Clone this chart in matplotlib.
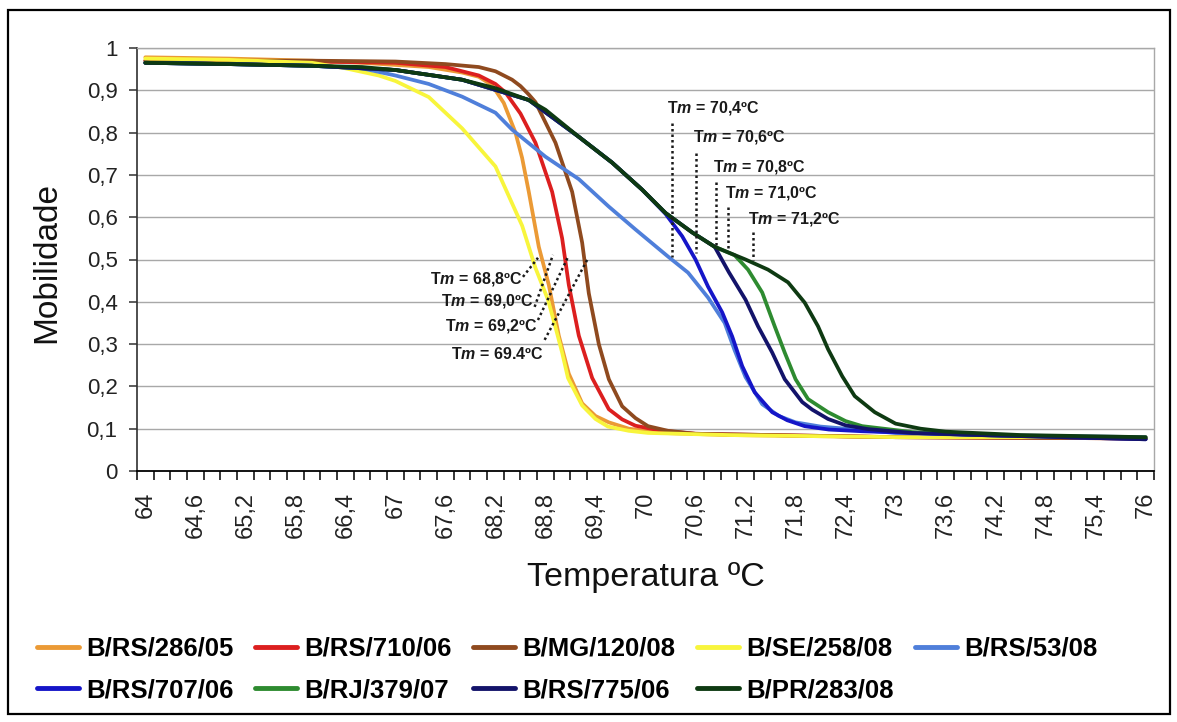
import matplotlib
matplotlib.use('Agg')
import matplotlib.pyplot as plt
import numpy as np
from matplotlib.patches import Rectangle

plt.rcParams['font.family'] = ['Liberation Sans', 'DejaVu Sans']
plt.rcParams['mathtext.fontset'] = 'custom'
plt.rcParams['mathtext.it'] = 'Liberation Sans:italic:bold'
plt.rcParams['mathtext.rm'] = 'Liberation Sans:bold'
plt.rcParams['mathtext.bf'] = 'Liberation Sans:bold'

# ---------------- data ----------------
names = ['B/RS/286/05', 'B/RS/710/06', 'B/MG/120/08', 'B/SE/258/08', 'B/RS/53/08',
         'B/RS/707/06', 'B/RJ/379/07', 'B/RS/775/06', 'B/PR/283/08']
colors = ['#EB9A35', '#DC1F1F', '#8F4A1F', '#F8F53C', '#4F7FDA',
          '#1515C8', '#2E8B30', '#13136A', '#0E3A12']

t_286_05 = [64, 65, 66, 66.6, 67, 67.4, 67.8, 68.0, 68.16, 68.3, 68.44, 68.52, 68.6, 68.72,
            68.84, 68.96, 69.08, 69.24, 69.4, 69.56, 69.8, 70.2, 71, 73, 76]
v_286_05 = [0.978, 0.975, 0.97, 0.965, 0.96, 0.955, 0.942, 0.932, 0.912, 0.87, 0.80, 0.74, 0.66,
            0.53, 0.44, 0.32, 0.23, 0.16, 0.13, 0.115, 0.10, 0.09, 0.085, 0.08, 0.077]

t_710_06 = [64, 65, 66, 67, 67.6, 68.0, 68.2, 68.32, 68.5, 68.68, 68.88, 69.0, 69.08, 69.2,
            69.36, 69.56, 69.72, 69.88, 70.2, 70.6, 71.5, 73, 76]
v_710_06 = [0.97, 0.97, 0.968, 0.965, 0.955, 0.935, 0.915, 0.895, 0.845, 0.776, 0.66, 0.55,
            0.44, 0.32, 0.22, 0.146, 0.122, 0.107, 0.095, 0.088, 0.085, 0.08, 0.077]

t_120_08 = [64, 65, 66, 67, 67.6, 68.0, 68.2, 68.4, 68.5, 68.6, 68.68, 68.92, 69.12, 69.24,
            69.32, 69.44, 69.56, 69.72, 69.88, 70.03, 70.27, 70.6, 71.5, 73, 76]
v_120_08 = [0.97, 0.97, 0.97, 0.968, 0.962, 0.955, 0.945, 0.925, 0.91, 0.89, 0.872, 0.776, 0.66,
            0.54, 0.42, 0.30, 0.217, 0.153, 0.125, 0.106, 0.095, 0.088, 0.085, 0.08, 0.077]

t_258_08 = [64, 65, 66, 66.4, 66.8, 67.0, 67.4, 67.8, 68.2, 68.52, 68.68, 68.83, 68.92, 69.0,
            69.07, 69.24, 69.4, 69.55, 69.8, 70.03, 71, 73, 76]
v_258_08 = [0.975, 0.972, 0.965, 0.952, 0.935, 0.922, 0.884, 0.81, 0.72, 0.58, 0.48, 0.405,
            0.34, 0.28, 0.22, 0.155, 0.123, 0.105, 0.095, 0.09, 0.085, 0.08, 0.08]

t_53_08 = [64, 65, 66, 66.6, 67.0, 67.4, 67.8, 68.2, 68.4, 68.8, 69.2, 69.56, 69.88, 70.27,
           70.51, 70.75, 70.95, 71.07, 71.2, 71.4, 71.6, 71.8, 72.1, 72.4, 73, 74, 76]
v_53_08 = [0.965, 0.962, 0.958, 0.952, 0.935, 0.915, 0.885, 0.847, 0.807, 0.743, 0.69, 0.625,
           0.571, 0.507, 0.469, 0.41, 0.35, 0.285, 0.222, 0.158, 0.13, 0.115, 0.105, 0.10,
           0.09, 0.085, 0.08]

t_707_06 = [64, 65, 66, 67, 67.8, 68.6, 69.2, 69.6, 69.96, 70.24, 70.44, 70.6, 70.75, 70.92,
            71.04, 71.16, 71.31, 71.52, 71.7, 71.91, 72.2, 72.6, 73.2, 74, 76]
v_707_06 = [0.965, 0.962, 0.958, 0.948, 0.925, 0.877, 0.79, 0.729, 0.665, 0.608, 0.555, 0.50,
            0.436, 0.375, 0.318, 0.248, 0.186, 0.139, 0.12, 0.106, 0.098, 0.094, 0.09, 0.085,
            0.075]

t_379_07 = [64, 65, 66, 67, 67.8, 68.6, 69.2, 69.6, 69.96, 70.24, 70.56, 70.83, 71.07, 71.23,
            71.4, 71.55, 71.67, 71.8, 71.95, 72.19, 72.4, 72.6, 73.2, 74, 76]
v_379_07 = [0.965, 0.962, 0.958, 0.948, 0.925, 0.877, 0.79, 0.729, 0.665, 0.61, 0.564, 0.53,
            0.51, 0.476, 0.422, 0.342, 0.28, 0.217, 0.17, 0.139, 0.118, 0.106, 0.092, 0.085,
            0.078]

t_775_06 = [64, 65, 66, 67, 67.8, 68.6, 69.2, 69.6, 69.96, 70.24, 70.56, 70.83, 71.0, 71.2,
            71.35, 71.52, 71.67, 71.88, 72.0, 72.19, 72.4, 72.67, 73.2, 74, 76]
v_775_06 = [0.965, 0.962, 0.958, 0.948, 0.925, 0.877, 0.79, 0.729, 0.665, 0.61, 0.564, 0.53,
            0.47, 0.405, 0.342, 0.28, 0.217, 0.163, 0.145, 0.123, 0.108, 0.099, 0.09, 0.085,
            0.075]

t_283_08 = [64, 65, 66, 66.6, 67, 67.8, 68.2, 68.6, 68.8, 69.2, 69.6, 69.96, 70.24, 70.56,
            70.83, 71.2, 71.47, 71.71, 71.91, 72.07, 72.19, 72.36, 72.51, 72.75, 73.0, 73.3,
            73.6, 74.5, 76]
v_283_08 = [0.965, 0.962, 0.958, 0.955, 0.948, 0.925, 0.905, 0.877, 0.854, 0.79, 0.729, 0.665,
            0.61, 0.564, 0.53, 0.50, 0.476, 0.446, 0.398, 0.342, 0.288, 0.224, 0.177, 0.139,
            0.112, 0.10, 0.093, 0.085, 0.08]

series_t = [t_286_05, t_710_06, t_120_08, t_258_08, t_53_08, t_707_06, t_379_07, t_775_06, t_283_08]
series_v = [v_286_05, v_710_06, v_120_08, v_258_08, v_53_08, v_707_06, v_379_07, v_775_06, v_283_08]

x_tick_labels = ['64', '64,6', '65,2', '65,8', '66,4', '67', '67,6', '68,2', '68,8', '69,4', '70',
                 '70,6', '71,2', '71,8', '72,4', '73', '73,6', '74,2', '74,8', '75,4', '76']
y_ticks = [0, 0.1, 0.2, 0.3, 0.4, 0.5, 0.6, 0.7, 0.8, 0.9, 1.0]
y_tick_labels = ['0', '0,1', '0,2', '0,3', '0,4', '0,5', '0,6', '0,7', '0,8', '0,9', '1']

# Tm annotations: label, text anchor (T, value), dotted line (T0, v0, T1, v1)
tm_upper = ['70,4', '70,6', '70,8', '71,0', '71,2']
tm_upper_text = [(70.26, 0.858), (70.57, 0.79), (70.81, 0.719), (70.95, 0.657), (71.23, 0.596)]
tm_upper_line = [(70.32, 0.823, 70.32, 0.506), (70.60, 0.752, 70.60, 0.515),
                 (70.84, 0.683, 70.84, 0.534), (70.99, 0.624, 70.99, 0.522),
                 (71.29, 0.565, 71.29, 0.499)]
tm_lower = ['68,8', '69,0', '69,2', '69.4']
tm_lower_text = [(68.52, 0.454), (68.65, 0.402), (68.70, 0.343), (68.77, 0.277)]
tm_lower_line = [(68.53, 0.459, 68.71, 0.504), (68.67, 0.388, 68.89, 0.511),
                 (68.71, 0.357, 69.07, 0.506), (68.79, 0.31, 69.30, 0.499)]

# ---------------- figure ----------------
W, H = 1177, 722
fig = plt.figure(figsize=(W / 100, H / 100), dpi=100)
fig.patch.set_facecolor('white')
fig.add_artist(Rectangle((8 / W, 1 - 714 / H), (1170 - 8) / W, (714 - 10) / H,
                         transform=fig.transFigure, fill=False, edgecolor='black', lw=1.6))

ax = fig.add_axes([137 / W, 1 - 471 / H, (1154 - 137) / W, (471 - 48) / H])

lines = []
for t, v, c, n in zip(series_t, series_v, colors, names):
    ln, = ax.plot(t, v, color=c, lw=2.7, label=n, solid_joinstyle='round', solid_capstyle='round')
    lines.append(ln)

ax.set_xlim(63.9, 76.1)
ax.set_ylim(0, 1)

# grid
for yv in y_ticks[1:]:
    ax.axhline(yv, color='#A8A8A8', lw=1.0, zorder=0)

# x ticks: labels at categories, tick marks at category boundaries
xt = [float(s.replace(',', '.')) for s in x_tick_labels]
ax.set_xticks(xt)
ax.set_xticklabels(x_tick_labels, rotation=90, fontsize=17, color='#222222')
ax.set_xticks(np.arange(63.9, 76.15, 0.2), minor=True)
ax.tick_params(axis='x', which='major', length=0, pad=15)
ax.tick_params(axis='x', which='minor', length=6.5, width=1.1, direction='out', color='black')

ax.set_yticks(y_ticks)
ax.set_yticklabels(y_tick_labels, fontsize=16, color='#222222')
ax.tick_params(axis='y', which='major', length=6, width=1.1, direction='out', pad=8, color='#303030')

for s in ['top', 'right']:
    ax.spines[s].set_color('#A8A8A8')
    ax.spines[s].set_linewidth(1.0)
ax.spines['left'].set_color('#303030')
ax.spines['left'].set_linewidth(1.2)
ax.spines['bottom'].set_color('black')
ax.spines['bottom'].set_linewidth(1.3)

# axis titles
fig.text(645.5 / W, 1 - 586 / H, 'Temperatura ºC', fontsize=24.5, ha='center', va='baseline',
         color='#111111')
fig.text(47 / W, 1 - 262.5 / H, 'Mobilidade', fontsize=24, rotation=90, ha='center', va='center',
         color='#111111')

# Tm annotations
for lab, (tx, ty), (x0, y0, x1, y1) in zip(tm_upper, tm_upper_text, tm_upper_line):
    ax.text(tx, ty, r'T$\mathit{m}$ = ' + lab + 'ºC', fontsize=11.5, fontweight='bold',
            ha='left', va='center', color='#1a1a1a')
    ax.plot([x0, x1], [y0, y1], color='#1a1a1a', lw=1.8, ls=(0, (1, 1.2)))
for lab, (tx, ty), (x0, y0, x1, y1) in zip(tm_lower, tm_lower_text, tm_lower_line):
    ax.text(tx, ty, r'T$\mathit{m}$ = ' + lab + 'ºC', fontsize=11.5, fontweight='bold',
            ha='right', va='center', color='#1a1a1a')
    ax.plot([x0, x1], [y0, y1], color='#1a1a1a', lw=1.8, ls=(0, (1, 1.2)))

# legend: two rows of 5 / 4 entries
order = [0, 5, 1, 6, 2, 7, 3, 8, 4]
leg = fig.legend([lines[i] for i in order], [names[i] for i in order], ncol=5,
                 loc='upper left', bbox_to_anchor=(37 / W, 1 - 637 / H), frameon=False,
                 prop={'size': 18.5, 'weight': 'bold'}, handlelength=1.65, handletextpad=0.28,
                 columnspacing=0.82, labelspacing=0.68, borderpad=0, borderaxespad=0)
for h in leg.legend_handles:
    h.set_linewidth(3.5)

fig.savefig('out.png', dpi=100)
